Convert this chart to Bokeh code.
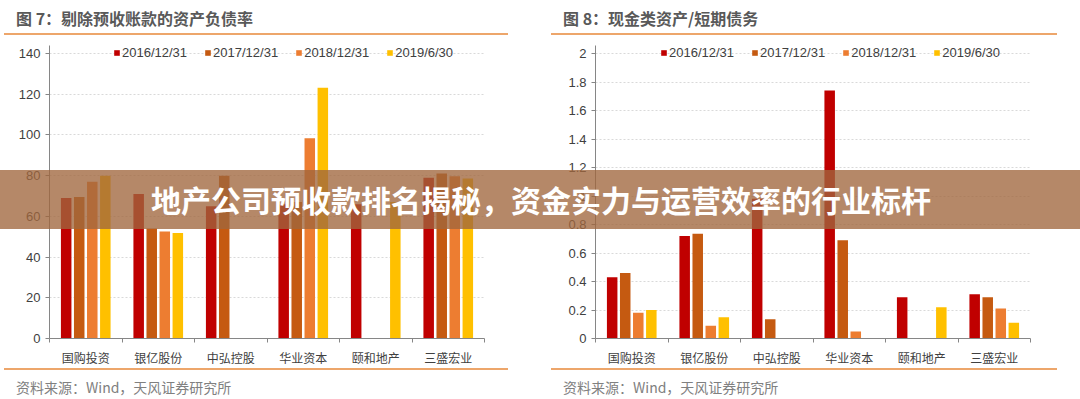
from bokeh.plotting import figure
from bokeh.models import Range1d, FixedTicker, Legend, LegendItem, Div
from bokeh.layouts import row, column
from bokeh.embed import file_html
from bokeh.resources import INLINE

categories = ["国购投资", "银亿股份", "中弘控股", "华业资本", "颐和地产", "三盛宏业"]
series = ["2016/12/31", "2017/12/31", "2018/12/31", "2019/6/30"]
colors = ["#C00000", "#C55A11", "#ED7D31", "#FFC000"]

# 图7 剔除预收账款的资产负债率 (%)
debt_2016 = [69, 71, 65, 66, 66, 79]
debt_2017 = [69.5, 54, 80, 67, None, 81]
debt_2018 = [77, 52.6, None, 98.4, None, 79.7]
debt_2019 = [80, 51.8, None, 123.2, 67, 78.6]

# 图8 现金类资产/短期债务
cash_2016 = [0.43, 0.72, 0.98, 1.74, 0.29, 0.31]
cash_2017 = [0.46, 0.735, 0.135, 0.69, None, 0.29]
cash_2018 = [0.18, 0.09, None, 0.05, None, 0.21]
cash_2019 = [0.20, 0.15, None, None, 0.22, 0.11]

debt_ticks = [0, 20, 40, 60, 80, 100, 120, 140]
debt_tick_labels = ["0", "20", "40", "60", "80", "100", "120", "140"]
cash_ticks = [0, 0.2, 0.4, 0.6, 0.8, 1, 1.2, 1.4, 1.6, 1.8, 2]
cash_tick_labels = ["0", "0.2", "0.4", "0.6", "0.8", "1", "1.2", "1.4", "1.6", "1.8", "2"]

title7 = "图 7：剔除预收账款的资产负债率"
title8 = "图 8：现金类资产/短期债务"
source_text = "资料来源：Wind，天风证券研究所"
banner_text = "地产公司预收款排名揭秘，资金实力与运营效率的行业标杆"

CJK = "Noto Sans CJK SC"
LAT = "Liberation Sans"
LINE_COLOR = "#EDA66B"

W, H = 540, 399
TOP_LINE = 53      # pixel row of the top tick
FRAME_TOP = 45     # frame top (room for the legend)
FRAME_BOTTOM = 338


def make_panel(values, ticks, tick_labels, b_left, b_right, legend_x):
    data_px = FRAME_BOTTOM - TOP_LINE
    frame_px = FRAME_BOTTOM - FRAME_TOP
    ymax = ticks[-1] * frame_px / data_px
    p = figure(width=W, height=H, x_range=Range1d(0, len(categories)),
               y_range=Range1d(0, ymax), output_backend="svg",
               toolbar_location=None, min_border_left=b_left,
               min_border_right=b_right, min_border_top=FRAME_TOP,
               min_border_bottom=H - FRAME_BOTTOM)
    p.outline_line_color = None
    p.xgrid.visible = False
    p.ygrid.grid_line_color = "#D9D9D9"
    p.ygrid.grid_line_dash = "2 2"

    items = []
    n = len(series)
    for j, (name, col, vals) in enumerate(zip(series, colors, values)):
        xs = [i + 0.5 + (j - (n - 1) / 2) * 0.18
              for i, v in enumerate(vals) if v is not None]
        tops = [v for v in vals if v is not None]
        r = p.vbar(x=xs, top=tops, bottom=0, width=0.145,
                   fill_color=col, line_color=None)
        items.append(LegendItem(label=name, renderers=[r]))

    leg = Legend(items=items, orientation="horizontal",
                 location=(legend_x, data_px - 7), padding=0, margin=0,
                 spacing=17, label_standoff=2, glyph_width=7, glyph_height=7,
                 label_height=14, label_text_font=LAT,
                 label_text_font_size="13px", label_text_color="#404040",
                 border_line_color=None, background_fill_alpha=0)
    p.add_layout(leg, "center")

    xa = p.xaxis[0]
    xa.ticker = FixedTicker(ticks=[i + 0.5 for i in range(len(categories))],
                            minor_ticks=list(range(len(categories) + 1)))
    xa.major_label_overrides = {i + 0.5: c for i, c in enumerate(categories)}
    xa.major_tick_out = 0
    xa.major_tick_in = 0
    xa.minor_tick_out = 4
    xa.minor_tick_in = 0
    xa.minor_tick_line_color = "#868686"
    xa.axis_line_color = "#868686"
    xa.major_label_text_font = CJK
    xa.major_label_text_font_size = "12px"
    xa.major_label_text_color = "#404040"
    xa.major_label_standoff = 6

    ya = p.yaxis[0]
    ya.ticker = FixedTicker(ticks=ticks)
    ya.major_label_overrides = dict(zip(ticks, tick_labels))
    ya.major_tick_out = 4
    ya.major_tick_in = 0
    ya.minor_tick_line_color = None
    ya.axis_line_color = "#868686"
    ya.major_tick_line_color = "#868686"
    ya.major_label_text_font = LAT
    ya.major_label_text_font_size = "13px"
    ya.major_label_text_color = "#404040"
    ya.major_label_standoff = 5
    return p


p1 = make_panel([debt_2016, debt_2017, debt_2018, debt_2019],
                debt_ticks, debt_tick_labels, 49, 56, 64)
p2 = make_panel([cash_2016, cash_2017, cash_2018, cash_2019],
                cash_ticks, cash_tick_labels, 55, 50, 65)


def box(left, top, width, height, inner="", style=""):
    return ('<div style="position:absolute;left:%dpx;top:%dpx;width:%dpx;'
            'height:%dpx;%s">%s</div>' % (left, top, width, height, style, inner))


title_style = ("font-family:'Noto Sans CJK SC';font-weight:bold;font-size:16px;"
               "line-height:20px;color:#595959;white-space:nowrap;")
source_style = ("font-family:'Noto Sans CJK SC';font-size:14px;"
                "line-height:20px;color:#808080;white-space:nowrap;")
line_style = "background:%s;" % LINE_COLOR
banner_style = "background:rgba(160,102,61,0.78);"
banner_text_style = ("color:#ffffff;font-family:'Noto Sans CJK SC';"
                     "font-weight:bold;font-size:30px;line-height:59px;"
                     "white-space:nowrap;")

decor_html = (
    '<div style="position:relative;width:1080px;height:399px;margin:0;padding:0;">'
    + box(16, 8, 300, 20, title7, title_style)
    + box(563, 8, 300, 20, title8, title_style)
    + box(4, 33, 504, 2, "", line_style)
    + box(551, 33, 506, 2, "", line_style)
    + box(4, 368, 504, 2, "", line_style)
    + box(551, 368, 506, 2, "", line_style)
    + box(16, 377, 300, 20, source_text, source_style)
    + box(563, 377, 300, 20, source_text, source_style)
    + box(0, 170, 1080, 59, "", banner_style)
    + box(151, 170, 800, 59, banner_text, banner_text_style)
    + '</div>')

decor = Div(text=decor_html, width=1080, height=399, margin=0,
            styles={"position": "absolute", "top": "0px", "left": "0px",
                    "z-index": "10", "pointer-events": "none"})

layout = column(row(p1, p2), decor)
open("out.html", "w").write(file_html(layout, INLINE))
